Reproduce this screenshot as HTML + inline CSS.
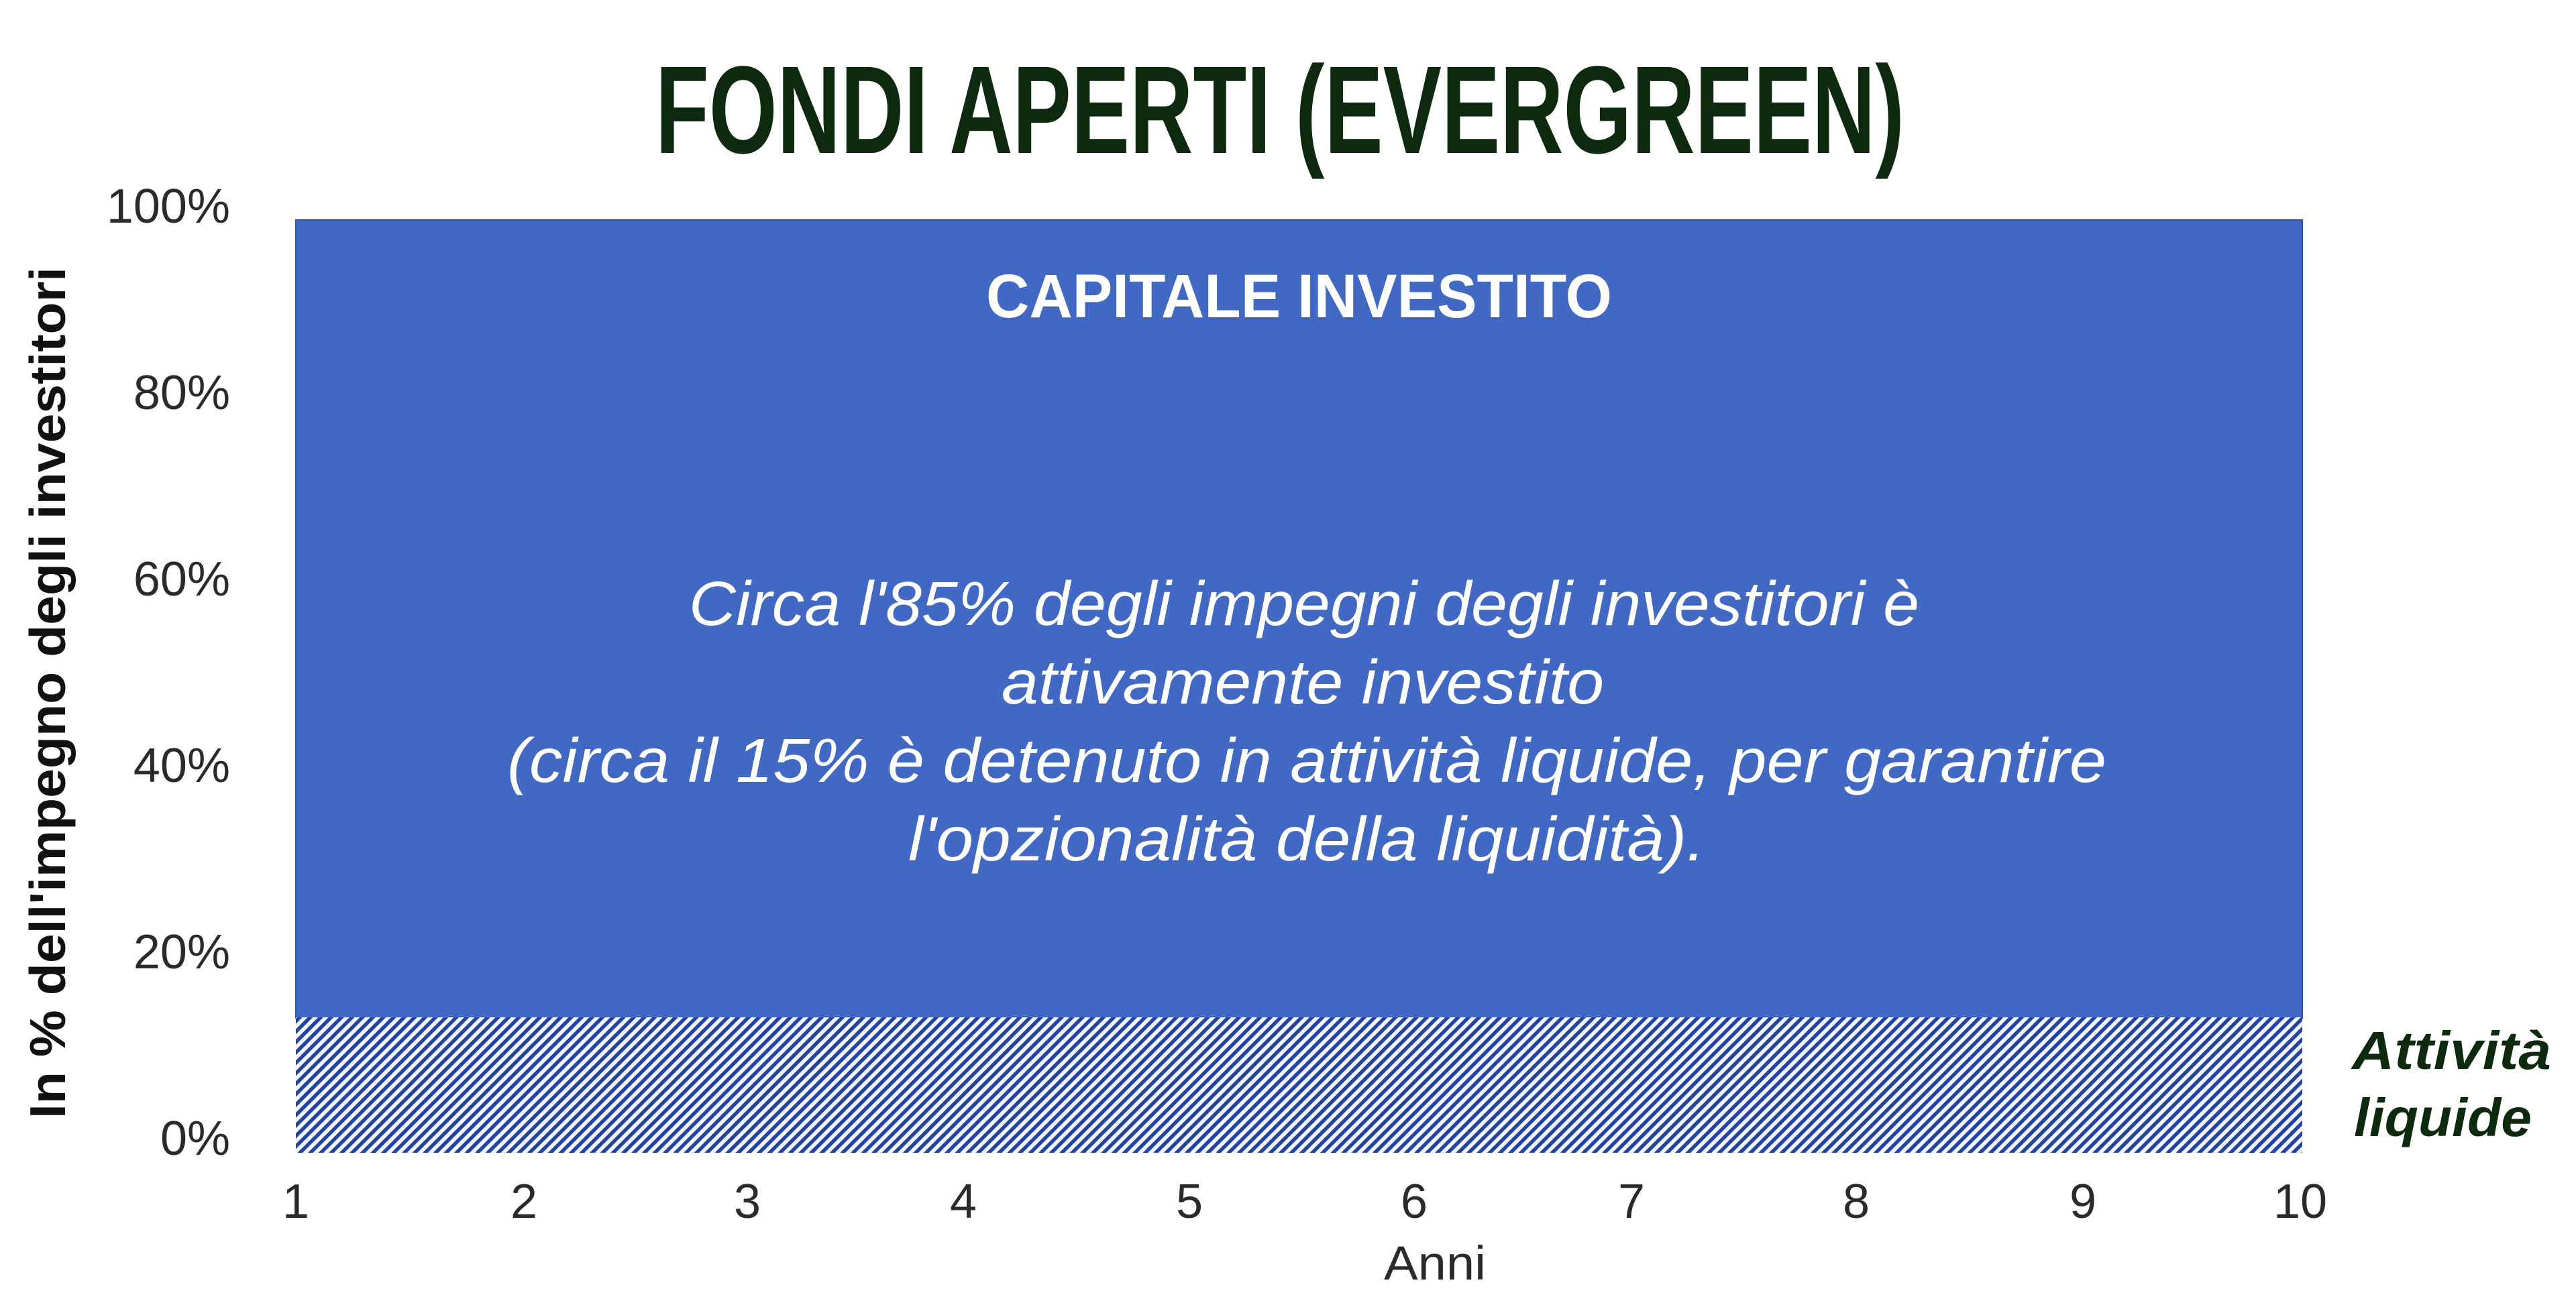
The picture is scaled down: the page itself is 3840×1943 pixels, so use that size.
<!DOCTYPE html>
<html>
<head>
<meta charset="utf-8">
<style>
  html, body { margin: 0; padding: 0; background: #ffffff; }
  svg { display: block; }
</style>
</head>
<body>
<svg xmlns="http://www.w3.org/2000/svg" width="3840" height="1943" viewBox="0 0 3840 1943">
  <defs>
    <pattern id="hatch" patternUnits="userSpaceOnUse" width="11" height="11" patternTransform="rotate(45)">
      <rect x="0" y="0" width="11" height="11" fill="#f4f7ff"/>
      <rect x="0" y="0" width="5.4" height="11" fill="#21449e"/>
    </pattern>
  </defs>
  <rect x="0" y="0" width="3840" height="1943" fill="#ffffff"/>

  <!-- Title -->
  <text x="977" y="228" font-family="'Liberation Sans Narrow','Liberation Sans',sans-serif" font-weight="bold" font-size="186" fill="#0e2a0e" textLength="1862" lengthAdjust="spacingAndGlyphs">FONDI APERTI (EVERGREEN)</text>

  <!-- Bars -->
  <rect x="441" y="328" width="2991" height="1190" fill="#4169c3" stroke="#2f55a8" stroke-width="2"/>
  <rect x="441" y="1517" width="2991" height="202" fill="url(#hatch)"/>

  <!-- Bar texts -->
  <text x="1470" y="473" font-family="'Liberation Sans',sans-serif" font-weight="bold" font-size="92" fill="#ffffff" textLength="933" lengthAdjust="spacingAndGlyphs">CAPITALE INVESTITO</text>

  <g font-family="'Liberation Sans',sans-serif" font-style="italic" font-size="93" fill="#ffffff">
    <text x="1027" y="932" textLength="1834" lengthAdjust="spacingAndGlyphs">Circa l'85% degli impegni degli investitori è</text>
    <text x="1493" y="1049" textLength="898" lengthAdjust="spacingAndGlyphs">attivamente investito</text>
    <text x="756" y="1166" textLength="2384" lengthAdjust="spacingAndGlyphs">(circa il 15% è detenuto in attività liquide, per garantire</text>
    <text x="1354" y="1283" textLength="1188" lengthAdjust="spacingAndGlyphs">l'opzionalità della liquidità).</text>
  </g>

  <!-- Y tick labels -->
  <g font-family="'Liberation Sans',sans-serif" font-size="72" fill="#2a2a2a" text-anchor="end">
    <text x="343" y="332">100%</text>
    <text x="343" y="610">80%</text>
    <text x="343" y="888">60%</text>
    <text x="343" y="1166">40%</text>
    <text x="343" y="1444">20%</text>
    <text x="343" y="1722">0%</text>
  </g>

  <!-- X tick labels -->
  <g font-family="'Liberation Sans',sans-serif" font-size="72" fill="#2a2a2a" text-anchor="middle">
    <text x="441" y="1816">1</text>
    <text x="781" y="1816">2</text>
    <text x="1114" y="1816">3</text>
    <text x="1436" y="1816">4</text>
    <text x="1773" y="1816">5</text>
    <text x="2108" y="1816">6</text>
    <text x="2432" y="1816">7</text>
    <text x="2767" y="1816">8</text>
    <text x="3105" y="1816">9</text>
    <text x="3429" y="1816">10</text>
  </g>

  <!-- X axis title -->
  <text x="2063" y="1908" font-family="'Liberation Sans',sans-serif" font-size="71" fill="#2a2a2a" textLength="152" lengthAdjust="spacingAndGlyphs">Anni</text>

  <!-- Y axis title -->
  <text transform="translate(97,1668) rotate(-90)" x="0" y="0" font-family="'Liberation Sans',sans-serif" font-weight="bold" font-size="75" fill="#111111" textLength="1270" lengthAdjust="spacingAndGlyphs">In % dell'impegno degli investitori</text>

  <!-- Side label -->
  <g font-family="'Liberation Sans',sans-serif" font-weight="bold" font-style="italic" font-size="80" fill="#0e2a0e">
    <text x="3506" y="1594" textLength="297" lengthAdjust="spacingAndGlyphs">Attività</text>
    <text x="3509" y="1694" textLength="265" lengthAdjust="spacingAndGlyphs">liquide</text>
  </g>
</svg>
</body>
</html>
